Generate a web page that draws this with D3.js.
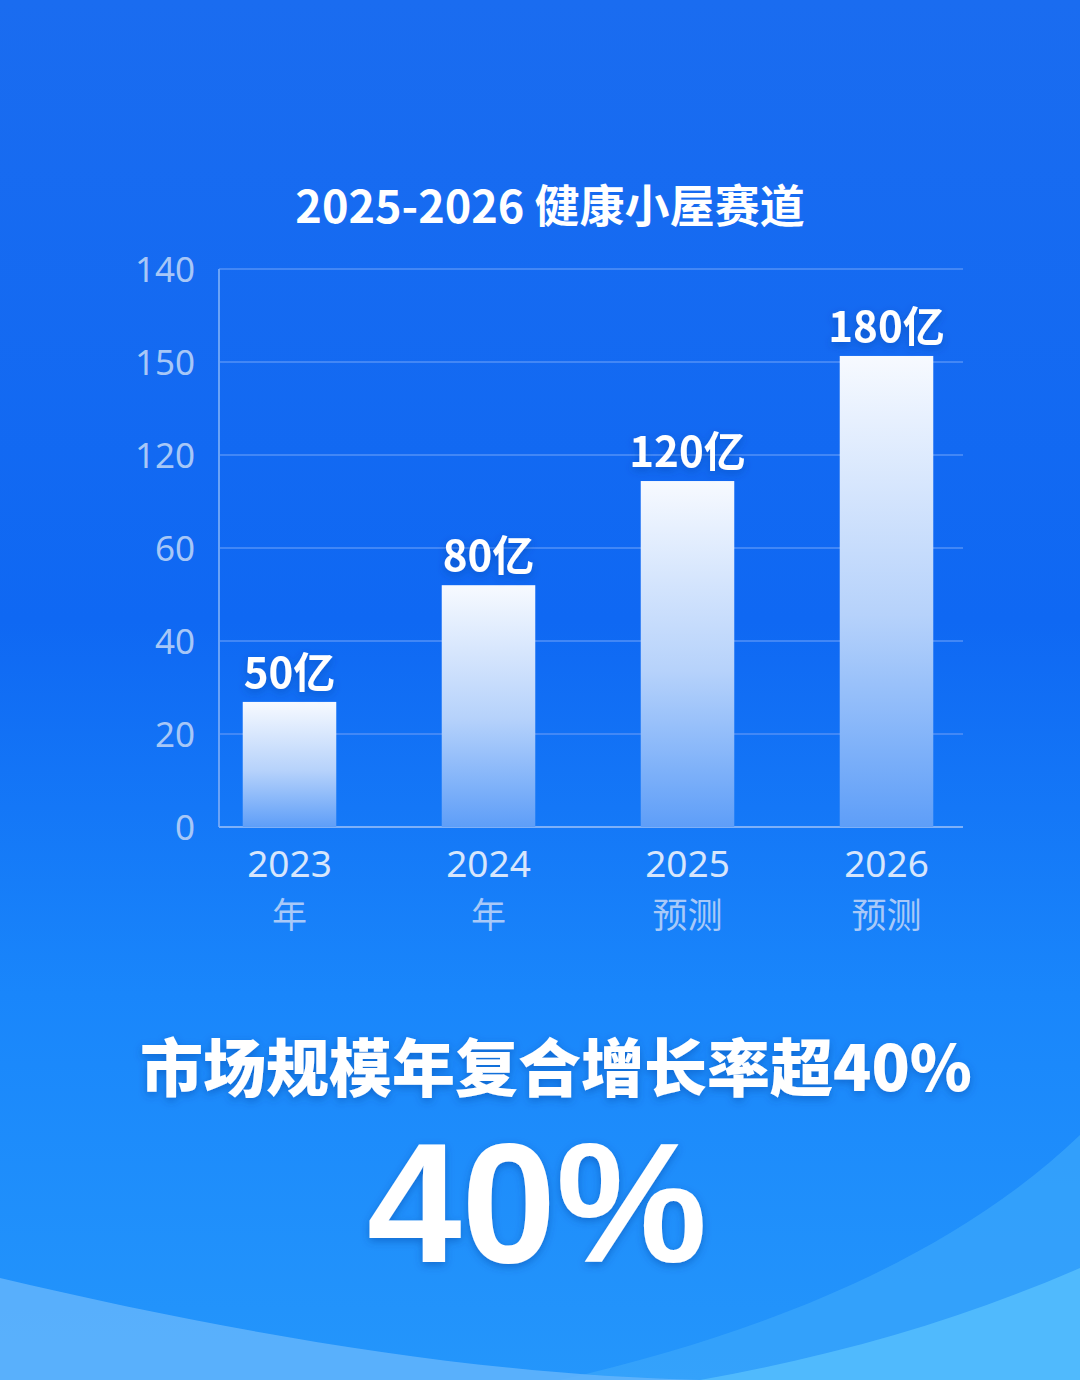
<!DOCTYPE html>
<html>
<head>
<meta charset="utf-8">
<script src="https://cdn.jsdelivr.net/npm/d3@7"></script>
<style>
  html, body { margin: 0; padding: 0; background: #1670f2; }
  svg { display: block; }
</style>
</head>
<body>
<div class="chart"></div>
<script>
// chart data
const categories = ["2023", "2024", "2025", "2026"];
const subLabels = ["年", "年", "预测", "预测"];
const valueLabels = ["50亿", "80亿", "120亿", "180亿"];
// bar heights as drawn, in units of the (evenly spaced) axis
const barValues = [26.9, 52, 74.4, 101.3];
const tickValues = [0, 20, 40, 60, 80, 100, 120];
const tickLabels = ["0", "20", "40", "60", "120", "150", "140"];
const title = "2025-2026 健康小屋赛道";
const headline = "市场规模年复合增长率超40%";
const bigNumber = "40%";

const width = 1080;
const height = 1380;
const cjk = "'Noto Sans CJK SC', 'Noto Sans', sans-serif";

const svg = d3.select('.chart')
  .append('svg')
  .attr('width', width)
  .attr('height', height);

const defs = svg.append('defs');

const bg = defs.append('linearGradient').attr('id', 'bg')
  .attr('x1', 0).attr('y1', 0).attr('x2', 0).attr('y2', 1);
bg.append('stop').attr('offset', '0%').attr('stop-color', '#1a6cf0');
bg.append('stop').attr('offset', '45%').attr('stop-color', '#0f68f3');
bg.append('stop').attr('offset', '72%').attr('stop-color', '#1986fb');
bg.append('stop').attr('offset', '100%').attr('stop-color', '#2496fb');

const barGrad = defs.append('linearGradient').attr('id', 'bar')
  .attr('x1', 0).attr('y1', 0).attr('x2', 0).attr('y2', 1);
barGrad.append('stop').attr('offset', '0%').attr('stop-color', '#f7faff');
barGrad.append('stop').attr('offset', '55%').attr('stop-color', '#b6d2fb');
barGrad.append('stop').attr('offset', '100%').attr('stop-color', '#5e9ef8');

const shadow = defs.append('filter').attr('id', 'shadow')
  .attr('x', '-10%').attr('y', '-20%').attr('width', '120%').attr('height', '150%');
shadow.append('feDropShadow').attr('dx', 0).attr('dy', 3).attr('stdDeviation', 4)
  .attr('flood-color', '#0a3f9e').attr('flood-opacity', 0.45);

// background
svg.append('rect').attr('width', width).attr('height', height).attr('fill', 'url(#bg)');

// bottom waves
svg.append('path')
  .attr('d', 'M1080,1135 C960,1250 780,1330 560,1380 L1080,1380 Z')
  .attr('fill', '#3aa6fb').attr('opacity', 0.75);
svg.append('path')
  .attr('d', 'M0,1278 C220,1330 470,1375 700,1380 L0,1380 Z')
  .attr('fill', '#66b6fc').attr('opacity', 0.8);
svg.append('path')
  .attr('d', 'M1080,1268 C960,1320 840,1355 700,1380 L1080,1380 Z')
  .attr('fill', '#5cc4fd').attr('opacity', 0.7);

// scales
const x = d3.scaleBand()
  .domain(categories)
  .range([190, 986])
  .paddingInner(0.53)
  .paddingOuter(0.265);

const y = d3.scaleLinear()
  .domain([0, 120])
  .range([827, 269]);

const plotLeft = 219, plotRight = 963;

// gridlines
svg.append('g')
  .selectAll('line')
  .data(tickValues.slice(1))
  .enter()
  .append('line')
  .attr('x1', plotLeft)
  .attr('x2', plotRight)
  .attr('y1', d => y(d))
  .attr('y2', d => y(d))
  .attr('stroke', '#4f8ef6')
  .attr('stroke-opacity', 0.8)
  .attr('stroke-width', 2);

// y axis with custom labels
const yAxis = d3.axisLeft(y)
  .tickValues(tickValues)
  .tickSize(0)
  .tickPadding(24)
  .tickFormat((d, i) => tickLabels[i]);

const yg = svg.append('g')
  .attr('transform', `translate(${plotLeft},0)`)
  .call(yAxis);
yg.select('.domain').remove();
yg.selectAll('text')
  .attr('font-family', "'Noto Sans', sans-serif")
  .attr('font-size', 35)
  .attr('fill', '#a7c7f7')
  .attr('dy', '0.35em');

// axis lines
svg.append('line')
  .attr('x1', plotLeft).attr('x2', plotLeft)
  .attr('y1', y(120)).attr('y2', y(0))
  .attr('stroke', '#6aa3f7').attr('stroke-width', 2);
svg.append('line')
  .attr('x1', plotLeft).attr('x2', plotRight)
  .attr('y1', y(0)).attr('y2', y(0))
  .attr('stroke', '#7db0f8').attr('stroke-width', 2);

// bars
svg.selectAll('rect.bar')
  .data(barValues)
  .enter()
  .append('rect')
  .attr('class', 'bar')
  .attr('x', (d, i) => x(categories[i]))
  .attr('y', d => y(d))
  .attr('width', x.bandwidth())
  .attr('height', d => y(0) - y(d))
  .attr('fill', 'url(#bar)');

// value labels
svg.selectAll('text.value')
  .data(barValues)
  .enter()
  .append('text')
  .attr('class', 'value')
  .attr('x', (d, i) => x(categories[i]) + x.bandwidth() / 2)
  .attr('y', d => y(d) - 14)
  .attr('text-anchor', 'middle')
  .attr('font-family', cjk)
  .attr('font-weight', 700)
  .attr('font-size', 42)
  .attr('fill', '#ffffff')
  .attr('filter', 'url(#shadow)')
  .text((d, i) => valueLabels[i]);

// x labels
svg.selectAll('text.year')
  .data(categories)
  .enter()
  .append('text')
  .attr('class', 'year')
  .attr('x', d => x(d) + x.bandwidth() / 2)
  .attr('y', 877)
  .attr('text-anchor', 'middle')
  .attr('font-family', "'Noto Sans', sans-serif")
  .attr('font-size', 37)
  .attr('fill', '#d7e6fc')
  .text(d => d);

svg.selectAll('text.sub')
  .data(subLabels)
  .enter()
  .append('text')
  .attr('class', 'sub')
  .attr('x', (d, i) => x(categories[i]) + x.bandwidth() / 2)
  .attr('y', 928)
  .attr('text-anchor', 'middle')
  .attr('font-family', cjk)
  .attr('font-size', 35)
  .attr('fill', '#a9c9f8')
  .text(d => d);

// title
svg.append('text')
  .attr('x', 550)
  .attr('y', 223)
  .attr('text-anchor', 'middle')
  .attr('font-family', cjk)
  .attr('font-weight', 700)
  .attr('font-size', 45)
  .attr('fill', '#ffffff')
  .text(title);

// headline
svg.append('text')
  .attr('x', 556)
  .attr('y', 1091)
  .attr('text-anchor', 'middle')
  .attr('font-family', cjk)
  .attr('font-weight', 900)
  .attr('font-size', 63)
  .attr('fill', '#ffffff')
  .attr('filter', 'url(#shadow)')
  .text(headline);

svg.append('text')
  .attr('x', 537)
  .attr('y', 1262)
  .attr('text-anchor', 'middle')
  .attr('font-family', "'Liberation Sans', Arial, sans-serif")
  .attr('font-weight', 700)
  .attr('font-size', 170)
  .attr('fill', '#ffffff')
  .attr('filter', 'url(#shadow)')
  .text(bigNumber);
</script>
</body>
</html>
